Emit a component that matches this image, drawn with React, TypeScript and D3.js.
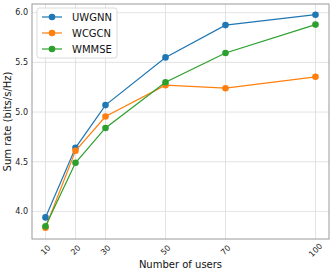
import React, { useEffect, useRef } from 'react';
import * as d3 from 'd3';

const users = [10, 20, 30, 50, 70, 100];
const uwgnn = [3.94, 4.64, 5.07, 5.55, 5.875, 5.98];
const wcgcn = [3.835, 4.61, 4.955, 5.27, 5.24, 5.355];
const wmmse = [3.85, 4.49, 4.84, 5.3, 5.595, 5.88];
const yTicks = [4.0, 4.5, 5.0, 5.5, 6.0];
const seriesNames = ['UWGNN', 'WCGCN', 'WMMSE'];
const seriesColors = ['#1f77b4', '#ff7f0e', '#2ca02c'];

const App = () => {
  const ref = useRef<SVGSVGElement>(null);

  useEffect(() => {
    if (!ref.current) return;
    const svg = d3.select(ref.current);
    svg.selectAll('*').remove();

    const width = 332;
    const height = 275;
    const margin = { top: 4, right: 3, bottom: 36, left: 32 };
    const font = 'DejaVu Sans, sans-serif';

    const x = d3.scaleLinear()
      .domain([5.5, 104.5])
      .range([margin.left, width - margin.right]);
    const y = d3.scaleLinear()
      .domain([3.7225, 6.0875])
      .range([height - margin.bottom, margin.top]);

    // grid
    const grid = svg.append('g');
    grid.selectAll('line.gx')
      .data(users)
      .enter().append('line')
      .attr('x1', d => x(d)).attr('x2', d => x(d))
      .attr('y1', margin.top).attr('y2', height - margin.bottom)
      .attr('stroke', '#dcdcdc').attr('stroke-width', 0.8);
    grid.selectAll('line.gy')
      .data(yTicks)
      .enter().append('line')
      .attr('x1', margin.left).attr('x2', width - margin.right)
      .attr('y1', d => y(d)).attr('y2', d => y(d))
      .attr('stroke', '#dcdcdc').attr('stroke-width', 0.8);

    // spines
    svg.append('rect')
      .attr('x', margin.left).attr('y', margin.top)
      .attr('width', width - margin.left - margin.right)
      .attr('height', height - margin.top - margin.bottom)
      .attr('fill', 'none').attr('stroke', '#9a9a9a').attr('stroke-width', 1);

    // y tick labels
    svg.append('g').selectAll('text')
      .data(yTicks)
      .enter().append('text')
      .attr('x', margin.left - 4)
      .attr('y', d => y(d))
      .attr('dy', '0.35em')
      .attr('text-anchor', 'end')
      .attr('font-family', font).attr('font-size', 8).attr('fill', '#222')
      .text(d => d.toFixed(1));

    // x tick labels (rotated)
    svg.append('g').selectAll('text')
      .data(users)
      .enter().append('text')
      .attr('transform', d => `translate(${x(d)},${height - margin.bottom + 11}) rotate(-45)`)
      .attr('text-anchor', 'middle')
      .attr('dy', '0.35em')
      .attr('font-family', font).attr('font-size', 8).attr('fill', '#222')
      .text(d => d);

    // axis labels
    svg.append('text')
      .attr('x', (margin.left + width - margin.right) / 2)
      .attr('y', 268)
      .attr('text-anchor', 'middle')
      .attr('font-family', font).attr('font-size', 10).attr('fill', '#111')
      .text('Number of users');
    svg.append('text')
      .attr('transform', `translate(7,${(margin.top + height - margin.bottom) / 2}) rotate(-90)`)
      .attr('text-anchor', 'middle')
      .attr('dy', '0.35em')
      .attr('font-family', font).attr('font-size', 10).attr('fill', '#111')
      .text('Sum rate (bits/s/Hz)');

    // lines
    const allSeries = [uwgnn, wcgcn, wmmse];
    const line = d3.line<number>()
      .x((d, i) => x(users[i]))
      .y(d => y(d));
    allSeries.forEach((s, k) => {
      const g = svg.append('g');
      g.append('path')
        .datum(s)
        .attr('fill', 'none')
        .attr('stroke', seriesColors[k])
        .attr('stroke-width', 1.2)
        .attr('d', line);
      g.selectAll('circle')
        .data(s)
        .enter().append('circle')
        .attr('cx', (d, i) => x(users[i]))
        .attr('cy', d => y(d))
        .attr('r', 3.3)
        .attr('fill', seriesColors[k]);
    });

    // legend
    const lg = svg.append('g').attr('transform', 'translate(37,8)');
    lg.append('rect')
      .attr('width', 80).attr('height', 50)
      .attr('rx', 2.5)
      .attr('fill', 'white').attr('fill-opacity', 0.85)
      .attr('stroke', '#d0d0d0').attr('stroke-width', 0.8);
    seriesNames.forEach((name, k) => {
      const yy = 9 + k * 16;
      lg.append('line')
        .attr('x1', 5).attr('x2', 25)
        .attr('y1', yy).attr('y2', yy)
        .attr('stroke', seriesColors[k]).attr('stroke-width', 1.2);
      lg.append('circle')
        .attr('cx', 15).attr('cy', yy).attr('r', 3.3)
        .attr('fill', seriesColors[k]);
      lg.append('text')
        .attr('x', 35).attr('y', yy)
        .attr('dy', '0.35em')
        .attr('font-family', font).attr('font-size', 10).attr('fill', '#111')
        .text(name);
    });
  }, []);

  return (
    <svg
      ref={ref}
      width={332}
      height={275}
      style={{ position: 'absolute', left: 0, top: 0, background: 'white' }}
    />
  );
};

export default App;
